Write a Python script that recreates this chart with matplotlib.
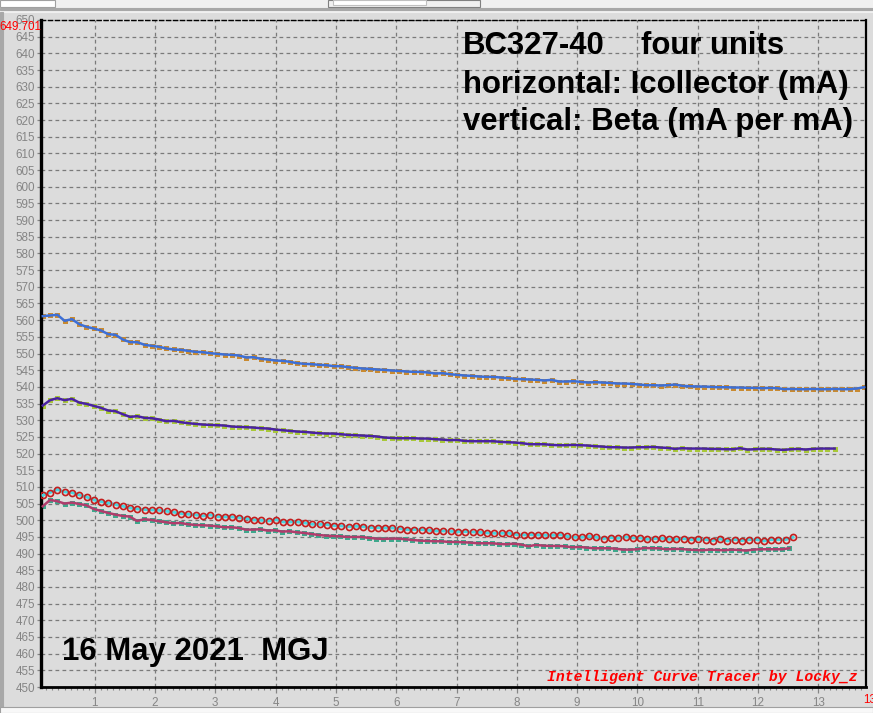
import numpy as np
import matplotlib
matplotlib.use('Agg')
import matplotlib.pyplot as plt
from matplotlib.patches import Rectangle
from matplotlib.ticker import MultipleLocator

W, H = 873, 713

# beta readings of the four BC327-40 units (x sampled evenly by the tracer)
unit1_x = (0.14, 13.76)
unit1_beta = [
    561.2, 561.4, 561.6, 559.8, 560.3, 558.8, 558.0, 557.5, 556.9, 555.8,
    555.6, 554.2, 553.4, 553.4, 552.6, 552.3, 552.0, 551.5, 551.2, 551.1,
    550.8, 550.5, 550.4, 550.1, 549.9, 549.7, 549.6, 549.4, 548.8, 548.9,
    548.4, 548.2, 547.9, 547.8, 547.5, 547.1, 546.9, 546.8, 546.6, 546.5,
    546.2, 546.2, 545.9, 545.7, 545.5, 545.4, 545.2, 545.1, 544.9, 544.8,
    544.6, 544.5, 544.5, 544.3, 544.0, 544.1, 543.8, 543.6, 543.4, 543.3,
    543.1, 543.0, 543.0, 542.8, 542.6, 542.4, 542.3, 542.2, 542.1, 541.9,
    542.1, 541.6, 541.6, 541.7, 541.5, 541.3, 541.4, 541.3, 541.2, 541.0,
    541.0, 540.9, 540.7, 540.5, 540.5, 540.4, 540.5, 540.7, 540.3, 540.2,
    540.1, 540.1, 540.0, 539.9, 539.9, 539.8, 539.8, 539.7, 539.7, 539.6,
    539.7, 539.6, 539.3, 539.4, 539.3, 539.3, 539.4, 539.3, 539.3, 539.4,
    539.3, 539.3, 539.5, 539.9,
]

unit2_x = (0.14, 13.27)
unit2_beta = [
    534.4, 536.0, 536.6, 536.0, 536.4, 535.3, 534.9, 534.3, 533.7, 532.9,
    532.7, 531.8, 531.0, 531.2, 530.7, 530.6, 530.2, 529.7, 529.8, 529.4,
    529.1, 528.9, 528.7, 528.6, 528.5, 528.4, 528.1, 528.0, 527.9, 527.8,
    527.6, 527.5, 527.2, 527.0, 526.8, 526.6, 526.5, 526.3, 526.1, 526.0,
    526.0, 525.8, 525.6, 525.5, 525.4, 525.3, 525.1, 524.8, 524.7, 524.6,
    524.6, 524.6, 524.5, 524.5, 524.3, 524.2, 524.0, 524.1, 523.8, 523.7,
    523.7, 523.7, 523.7, 523.5, 523.4, 523.3, 523.1, 522.8, 522.8, 522.8,
    522.6, 522.5, 522.5, 522.6, 522.5, 522.4, 522.2, 522.1, 521.9, 521.9,
    521.8, 521.8, 521.9, 521.9, 522.0, 521.8, 521.7, 521.4, 521.6, 521.5,
    521.5, 521.5, 521.4, 521.4, 521.3, 521.3, 521.6, 521.2, 521.3, 521.4,
    521.4, 521.2, 521.1, 521.3, 521.4, 521.2, 521.4, 521.5, 521.5, 521.5,
]

unit3_x = (0.14, 12.58)
unit3_beta = [
    507.5, 508.3, 509.2, 508.5, 508.3, 507.6, 507.0, 506.1, 505.6, 505.2,
    504.7, 504.2, 503.7, 503.4, 503.2, 503.1, 503.0, 502.7, 502.4, 502.0,
    501.8, 501.6, 501.3, 501.6, 501.1, 501.0, 501.0, 500.8, 500.5, 500.1,
    500.0, 499.8, 500.2, 499.5, 499.5, 499.5, 499.2, 498.8, 498.8, 498.7,
    498.4, 498.3, 498.1, 498.2, 498.1, 497.8, 497.8, 497.7, 497.7, 497.5,
    497.2, 497.2, 497.2, 497.0, 496.8, 496.8, 496.7, 496.6, 496.6, 496.5,
    496.4, 496.2, 496.1, 496.1, 496.1, 495.7, 495.6, 495.7, 495.6, 495.5,
    495.5, 495.7, 495.2, 494.9, 494.9, 495.2, 494.9, 494.5, 494.8, 494.6,
    495.0, 494.7, 494.7, 494.3, 494.5, 494.6, 494.3, 494.3, 494.5, 494.2,
    494.3, 494.2, 493.9, 494.4, 493.8, 494.2, 493.9, 494.2, 494.2, 493.8,
    494.2, 494.2, 494.2, 494.9,
]

unit4_x = (0.14, 12.52)
unit4_beta = [
    504.2, 506.1, 505.7, 505.0, 505.3, 504.9, 504.5, 503.4, 502.8, 502.2,
    501.7, 501.3, 501.1, 499.8, 500.3, 500.1, 499.7, 499.4, 499.1, 499.2,
    498.8, 498.6, 498.5, 498.4, 498.2, 497.9, 497.9, 497.7, 497.2, 497.2,
    497.3, 496.9, 497.0, 496.6, 496.7, 496.4, 496.2, 495.9, 495.6, 495.4,
    495.3, 495.2, 495.0, 495.0, 495.0, 494.7, 494.5, 494.4, 494.5, 494.5,
    494.3, 494.1, 493.9, 493.8, 493.7, 493.7, 493.5, 493.5, 493.4, 493.3,
    493.1, 493.1, 493.1, 492.9, 492.8, 493.0, 492.7, 492.2, 492.6, 492.4,
    492.3, 492.3, 492.2, 491.9, 492.0, 491.8, 491.6, 491.6, 491.6, 491.5,
    491.2, 491.2, 491.3, 491.7, 491.6, 491.6, 491.3, 491.4, 491.4, 491.2,
    491.1, 491.0, 491.2, 491.1, 491.0, 491.2, 491.1, 490.9, 491.2, 491.3,
    491.3, 491.3, 491.3, 491.6,
]

y_ticks = list(range(450, 651, 5))
x_ticks = list(range(1, 14))


def fx(px):
    return px / W


def fy(py):
    return 1 - py / H


fig = plt.figure(figsize=(W / 100, H / 100), dpi=100)
fig.patch.set_facecolor('#dcdcdc')

# window chrome around the tracer plot
chrome = [
    (0, 0, W, 12, '#f0f0f0', None),
    (0, 8, W, 1.5, '#a8a8a8', None),
    (0, 0, 55, 7, '#ffffff', '#a0a0a0'),
    (328, 0, 152, 7, '#f0f0f0', '#808080'),
    (333, 0, 93, 5, '#ffffff', '#c0c0c0'),
    (0, 12, 2.5, 696, '#a8a8a8', None),
    (0, 707, W, 6, '#f8f8f8', '#a0a0a0'),
]
for x0, y0, w, h, fc, ec in chrome:
    fig.patches.append(Rectangle((fx(x0), fy(y0 + h)), w / W, h / H,
                                 transform=fig.transFigure, facecolor=fc,
                                 edgecolor=ec if ec else fc, linewidth=0.8,
                                 zorder=0))

ax = fig.add_axes([fx(41), fy(687), 825 / W, 667 / H])
ax.set_facecolor('#dcdcdc')
ax.set_xlim(0.11, 13.79)
ax.set_ylim(450, 650)

ax.set_yticks(y_ticks)
ax.set_xticks(x_ticks)
ax.xaxis.set_minor_locator(MultipleLocator(0.1))
ax.grid(True, which='major', color='#7a7a7a', linestyle=(0, (3, 2.6)), linewidth=0.9)
ax.set_axisbelow(True)

ax.tick_params(axis='both', which='major', colors='#858585', length=3, width=0.9,
               pad=1.5, labelsize=8.4)
ax.tick_params(axis='x', which='minor', colors='#858585', length=2.5, width=0.8)
ax.tick_params(axis='x', which='major', length=4, pad=3)
for lab in ax.get_xticklabels() + ax.get_yticklabels():
    lab.set_fontfamily('Liberation Sans')

ax.spines['left'].set_linewidth(2.4)
ax.spines['right'].set_linewidth(1.6)
ax.spines['top'].set_linewidth(1.0)
ax.spines['top'].set_linestyle((0, (3, 2)))
ax.spines['bottom'].set_linewidth(2.0)
ax.spines['bottom'].set_linestyle((0, (4, 1)))
for s in ax.spines.values():
    s.set_color('black')

series = [
    (unit1_x, unit1_beta, '#3d6fd6', '#c98a30', 's'),
    (unit2_x, unit2_beta, '#4a22a2', '#a8c838', 's'),
    (unit3_x, unit3_beta, '#44d6e2', '#c41e1e', 'o'),
    (unit4_x, unit4_beta, '#b03c6c', '#3ea88c', 's'),
]
for (x0, x1), beta, lc, mc, mk in series:
    xs = np.linspace(x0, x1, len(beta))
    if mk == 's':
        ax.plot(xs, beta, ls='none', marker='s', ms=3.6, mew=0, color=mc, zorder=2)
        ax.plot(xs, beta, color=lc, lw=1.8, zorder=3)
    else:
        ax.plot(xs, beta, color=lc, lw=2.0, zorder=3)
        ax.plot(xs, beta, ls='none', marker='o', ms=4.4, mfc='none', mec=mc,
                mew=1.2, zorder=4)

# max value readouts in red
fig.text(fx(41), fy(27), '649.701', color='#ff0000', ha='right', va='center',
         family='Liberation Sans', size=8.4)
fig.text(fx(863), fy(700), '13.78', color='#ff0000', ha='left', va='center',
         family='Liberation Sans', size=8.4)

big = dict(family='Liberation Sans', weight='bold', size=22.4, color='black',
           ha='left', va='center')
fig.text(fx(463), fy(46), 'BC327-40', **big)
fig.text(fx(641), fy(46), 'four units', **big)
fig.text(fx(463), fy(85), 'horizontal: Icollector (mA)', **big)
fig.text(fx(463), fy(122), 'vertical: Beta (mA per mA)', **big)
fig.text(fx(62), fy(652), '16 May 2021  MGJ', **big)

fig.text(fx(547), fy(677), 'Intelligent Curve Tracer by Locky_z', color='#ff0000',
         family='Liberation Mono', style='italic', weight='bold', size=10.6,
         ha='left', va='center')

fig.savefig('out.png', dpi=100, facecolor=fig.get_facecolor())
